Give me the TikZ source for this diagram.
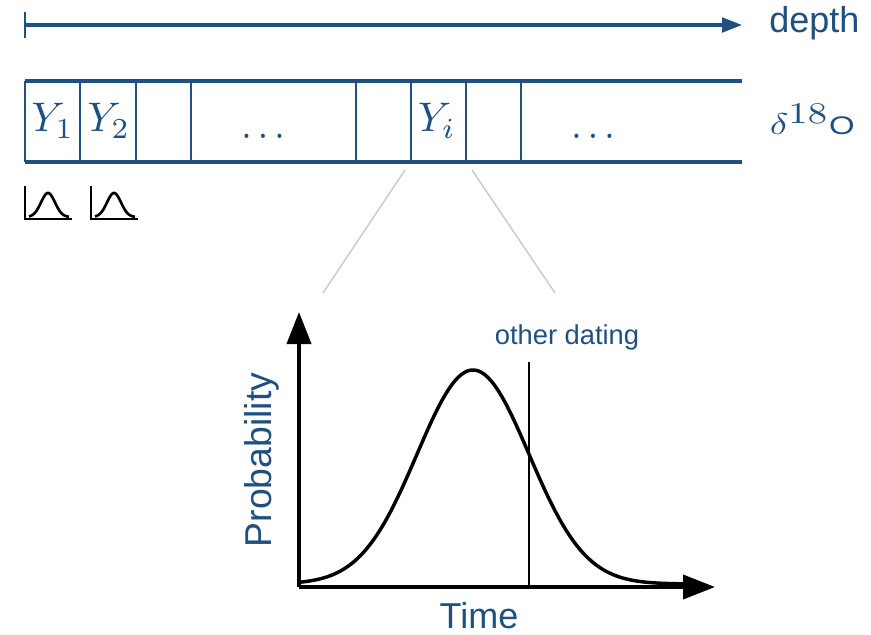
\documentclass[tikz,border=0pt]{standalone}
\usepackage{fontspec}
\setmainfont{Liberation Sans}
\usetikzlibrary{arrows.meta,positioning}
\definecolor{coreblue}{RGB}{31,80,128}

\begin{document}
\begin{tikzpicture}[x=0.75pt,y=-0.75pt, >=Triangle,
 lab/.style={text=coreblue,inner sep=0pt},
 cell/.style={lab,font=\normalsize,scale=3.1,anchor=base},
 rim/.style={draw=coreblue,line width=3.6pt},
 cut/.style={draw=coreblue,line width=2pt},
 zoomline/.style={draw=black!22,line width=1pt},
 axis/.style={-{Triangle[length=24pt,width=18pt]},line width=3pt},
 tinyaxis/.style={line width=2.2pt},
 bell/.style={line width=2pt}]
\useasboundingbox (0,0) rectangle (871,635);

% depth axis
\coordinate (d0) at (25,25);
\coordinate (d1) at (742,25);
\draw[coreblue,line width=2.4pt,-{Triangle[length=15pt,width=11pt]}] (d0) -- (d1);
\draw[coreblue,line width=2.2pt] (25,12) -- (25,38);
\node[lab,font=\fontsize{27}{30}\selectfont,anchor=base west] (depth) at (769,33) {depth};

% core strip
\draw[rim] (25,81) -- (742,81);
\draw[rim] (25,162) -- (742,162);
\foreach \xx in {25,80,136,191,356,411,466,521}
  \draw[cut] (\xx,81) -- (\xx,162);
\node[cell] (y1) at (53,132) {$Y_1$};
\node[cell] (y2) at (109,132) {$Y_2$};
\node[cell,xscale=0.9] (dots1) at (263,138) {$\dots$};
\node[cell] (yi) at (437,132) {$Y_i$};
\node[cell,xscale=0.9] (dots2) at (593,138) {$\dots$};
\node[lab,font=\normalsize,xscale=2.9,yscale=2.25,anchor=base west] (iso) at (769,134)
  {$\delta^{\textstyle 18}${\fontsize{8.5}{9}\selectfont O}};

% small densities
\draw[tinyaxis] (25,186) -- (25,219) -- (72,219);
\draw[bell] plot[domain=29:69,samples=40] (\x,{217-24*exp(-((\x-48)/7)^2/2)});
\draw[tinyaxis] (91,186) -- (91,219) -- (138,219);
\draw[bell] plot[domain=95:135,samples=40] (\x,{217-24*exp(-((\x-114)/7)^2/2)});

% zoom lines
\coordinate (zl0) at (405,170);
\coordinate (zl1) at (323,293);
\coordinate (zr0) at (472,170);
\coordinate (zr1) at (555,293);
\draw[zoomline] (zl0) -- (zl1);
\draw[zoomline] (zr0) -- (zr1);

% probability plot
\coordinate (o) at (299,587);
\coordinate (ytop) at (299,312);
\coordinate (xend) at (715,587);
\draw[axis] (o) -- (ytop);
\draw[axis] (o) -- (xend);
\draw[line width=2.6pt] plot[domain=300:700,samples=120] (\x,{584-214*exp(-((\x-473)/56)^2/2)});
\coordinate (od0) at (529,362);
\coordinate (od1) at (529,587);
\draw[line width=0.8pt] (od0) -- (od1);
\node[lab,font=\fontsize{20.5}{23}\selectfont] (other) at (567,337) {other dating};
\node[lab,font=\fontsize{27}{30}\selectfont,anchor=base] (time) at (479,628) {Time};
\node[lab,font=\fontsize{28}{31}\selectfont,rotate=90] (prob) at (262,460) {Probability};
\end{tikzpicture}
\end{document}
